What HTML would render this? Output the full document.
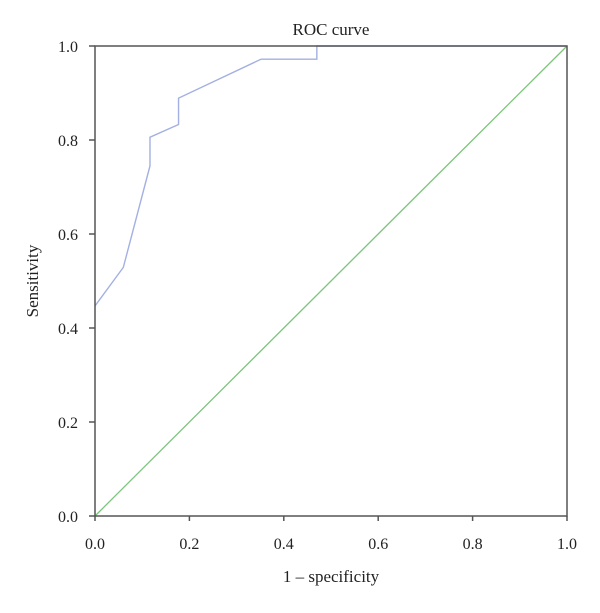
<!DOCTYPE html>
<html><head><meta charset="utf-8"><style>
html,body{margin:0;padding:0;background:#fff;}
svg text{font-family:"Liberation Serif",serif;fill:#222;}
</style></head><body>
<svg id="chart" width="600" height="608" viewBox="0 0 600 608" xmlns="http://www.w3.org/2000/svg">
<text x="331" y="35" font-size="17" text-anchor="middle">ROC curve</text>
<text x="331" y="582" font-size="17" text-anchor="middle">1 – specificity</text>
<text transform="translate(38,281) rotate(-90)" font-size="17" text-anchor="middle">Sensitivity</text>
<g id="plot"></g>
</svg>
<script>
const rocFpr = [0, 0.06, 0.1165, 0.1165, 0.177, 0.177, 0.352, 0.47, 0.47, 1.0];
const rocTpr = [0.447, 0.529, 0.745, 0.806, 0.833, 0.889, 0.972, 0.972, 1.0, 1.0];
const refX = [0, 1];
const refY = [0, 1];
const xTicks = [0, 0.2, 0.4, 0.6, 0.8, 1.0];
const yTicks = [0, 0.2, 0.4, 0.6, 0.8, 1.0];

const X0 = 95, X1 = 567, Y0 = 516, Y1 = 46;
const sx = v => X0 + v * (X1 - X0);
const sy = v => Y0 - v * (Y0 - Y1);
const NS = "http://www.w3.org/2000/svg";
const g = document.getElementById('plot');
function mk(tag, attrs) {
  const e = document.createElementNS(NS, tag);
  for (const k in attrs) e.setAttribute(k, attrs[k]);
  g.appendChild(e);
  return e;
}
// reference diagonal
const ref = mk('polyline', {points: refX.map((v, i) => sx(v) + ',' + sy(refY[i])).join(' '), fill: 'none', stroke: '#7cc47c', 'stroke-width': 1.3});


// roc curve
const roc = mk('polyline', {points: rocFpr.map((v, i) => sx(v) + ',' + sy(rocTpr[i])).join(' '), fill: 'none', stroke: '#a3b0e2', 'stroke-width': 1.4});


// frame
const frame = mk('rect', {x: X0, y: Y1, width: X1 - X0, height: Y0 - Y1, fill: 'none', stroke: '#555', 'stroke-width': 1.5});


xTicks.forEach(t => {
  const l = mk('line', {x1: sx(t), x2: sx(t), y1: Y0, y2: Y0 + 5, stroke: '#555', 'stroke-width': 1.5});
  
  
  const tx = mk('text', {x: sx(t), y: 549, 'font-size': 16, 'text-anchor': 'middle'});
  tx.textContent = t.toFixed(1);
  
  
});
yTicks.forEach(t => {
  const l = mk('line', {x1: X0 - 6, x2: X0, y1: sy(t), y2: sy(t), stroke: '#555', 'stroke-width': 1.5});
  
  
  const tx = mk('text', {x: 78, y: sy(t) + 6, 'font-size': 16, 'text-anchor': 'end'});
  tx.textContent = t.toFixed(1);
  
  
});
</script>
</body></html>
